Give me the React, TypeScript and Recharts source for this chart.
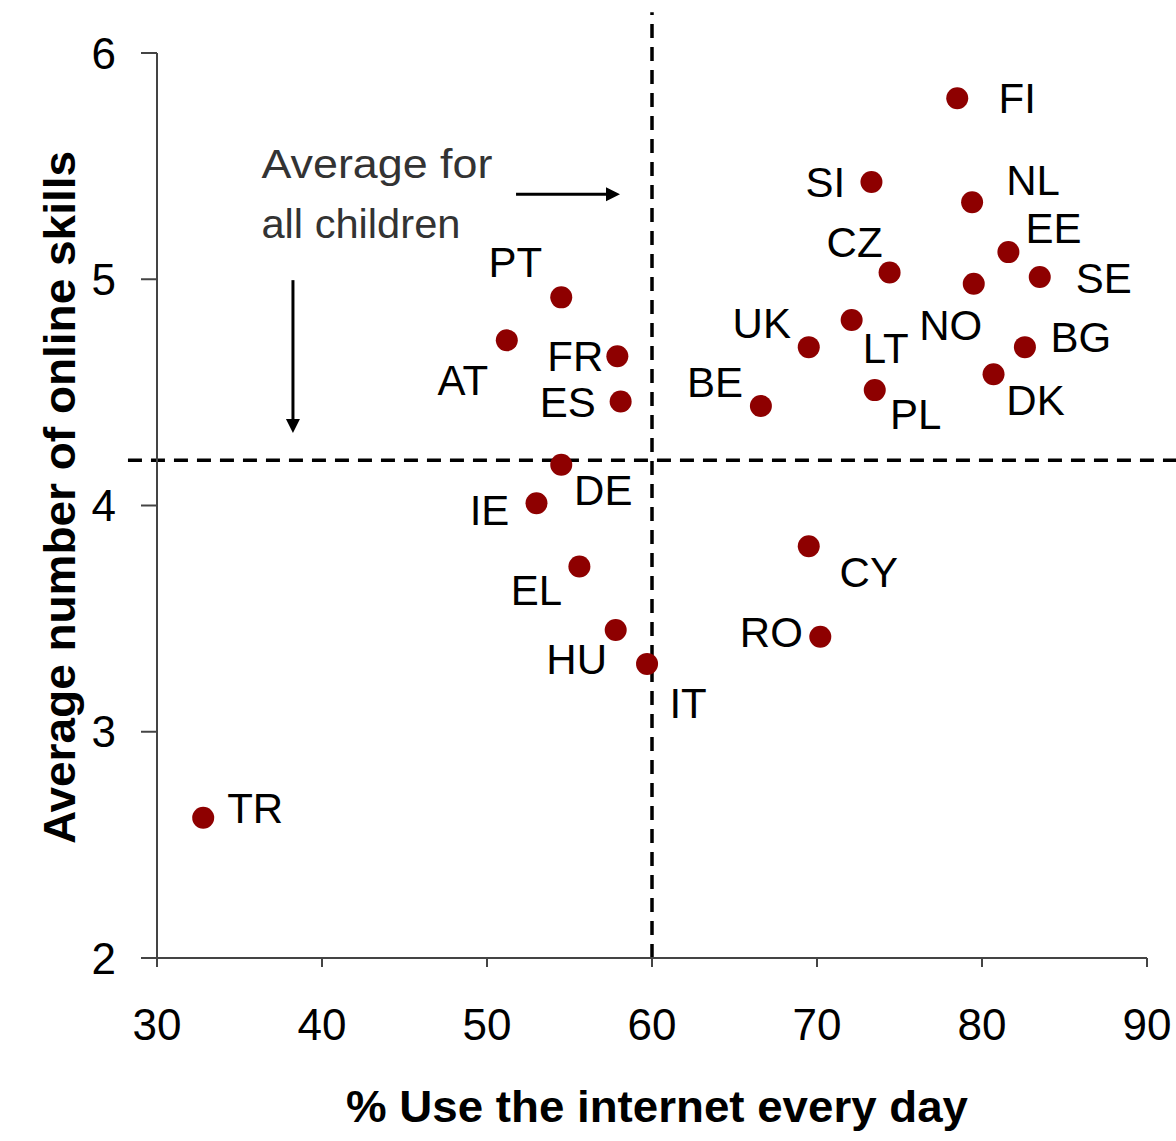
import React from 'react';
import { ScatterChart, Scatter, XAxis, YAxis, ReferenceLine, ReferenceDot } from 'recharts';

const countries = ['FI', 'SI', 'NL', 'EE', 'CZ', 'SE', 'NO', 'PT', 'LT', 'UK', 'AT', 'FR', 'BG', 'PL', 'DK', 'ES', 'BE', 'DE', 'IE', 'CY', 'EL', 'HU', 'RO', 'IT', 'TR'];
const dailyUse = [78.5, 73.3, 79.4, 81.6, 74.4, 83.5, 79.5, 54.5, 72.1, 69.5, 51.2, 57.9, 82.6, 73.5, 80.7, 58.1, 66.6, 54.5, 53.0, 69.5, 55.6, 57.8, 70.2, 59.7, 32.8];
const onlineSkills = [5.80, 5.43, 5.34, 5.12, 5.03, 5.01, 4.98, 4.92, 4.82, 4.70, 4.73, 4.66, 4.70, 4.51, 4.58, 4.46, 4.44, 4.18, 4.01, 3.82, 3.73, 3.45, 3.42, 3.30, 2.62];

const xTicks = [30, 40, 50, 60, 70, 80, 90];
const yTicks = [2, 3, 4, 5, 6];
const averageUse = 60;
const averageSkills = 4.2;

// label placement (pixel offsets of label centre from its dot)
const labelOffsets: Record<string, [number, number]> = {
  FI: [60, 0], SI: [-46, 0], NL: [61, -22], EE: [45, -24], CZ: [-35, -30], SE: [64, 1],
  NO: [-23, 41], PT: [-46, -35], LT: [34, 28], UK: [-47, -24], AT: [-44, 40], FR: [-42, 0],
  BG: [56, -10], PL: [41, 24], DK: [42, 26], ES: [-53, 1], BE: [-46, -24], DE: [42, 25],
  IE: [-47, 7], CY: [60, 26], EL: [-43, 23], HU: [-39, 29], RO: [-49, -5], IT: [41, 39], TR: [52, -10],
};

const data = countries.map((c, i) => ({ country: c, x: dailyUse[i], y: onlineSkills[i] }));

const FONT = '"Liberation Sans", Arial, sans-serif';
const DOT = '#8e0000';
const LABEL_SIZE = 42;

const DotWithLabel = (props: any) => {
  const { cx, cy, payload } = props;
  const off = labelOffsets[payload.country] || [40, 0];
  return (
    <g>
      <circle cx={cx} cy={cy} r={11} fill={DOT} />
      <text
        x={cx + off[0]}
        y={cy + off[1] + LABEL_SIZE * 0.358}
        textAnchor="middle"
        fontFamily={FONT}
        fontSize={LABEL_SIZE}
        fill="#000"
      >
        {payload.country}
      </text>
    </g>
  );
};

const Arrow = (props: any) => {
  const { x1, y1, x2, y2 } = props;
  const ang = Math.atan2(y2 - y1, x2 - x1);
  const len = 14;
  const half = 7;
  const bx = x2 - len * Math.cos(ang);
  const by = y2 - len * Math.sin(ang);
  const px = -Math.sin(ang) * half;
  const py = Math.cos(ang) * half;
  return (
    <g>
      <line x1={x1} y1={y1} x2={bx} y2={by} stroke="#000" strokeWidth={3} />
      <polygon points={`${x2},${y2} ${bx + px},${by + py} ${bx - px},${by - py}`} fill="#000" />
    </g>
  );
};

const AnnotationText = (props: any) => {
  const { cx, cy } = props;
  return (
    <g>
      <text x={cx} y={cy} fontFamily={FONT} fontSize={40} fill="#333" textLength={231} lengthAdjust="spacingAndGlyphs">
        Average for
      </text>
      <text x={cx} y={cy + 60} fontFamily={FONT} fontSize={40} fill="#333" textLength={199} lengthAdjust="spacingAndGlyphs">
        all children
      </text>
    </g>
  );
};

const XTitle = (props: any) => {
  const vb = props.viewBox || {};
  return (
    <text
      x={vb.x + vb.width / 2 + 5}
      y={vb.y + 164}
      textAnchor="middle"
      fontFamily={FONT}
      fontWeight="bold"
      fontSize={44}
      fill="#000"
      textLength={622}
      lengthAdjust="spacingAndGlyphs"
    >
      % Use the internet every day
    </text>
  );
};

const YTitle = (props: any) => {
  const vb = props.viewBox || {};
  const cy = vb.y + vb.height / 2 - 8;
  const x = 75;
  return (
    <text
      x={x}
      y={cy}
      transform={`rotate(-90, ${x}, ${cy})`}
      textAnchor="middle"
      fontFamily={FONT}
      fontWeight="bold"
      fontSize={44}
      fill="#000"
      textLength={693}
      lengthAdjust="spacingAndGlyphs"
    >
      Average number of online skills
    </text>
  );
};

const tickStyle = { fontFamily: FONT, fontSize: 44, fill: '#000' };

export default function App() {
  return (
    <div style={{ position: 'absolute', left: 0, top: 0, width: 1176, height: 1141, background: '#fff' }}>
      <ScatterChart width={1176} height={1141} margin={{ top: 53, right: 29, bottom: 123, left: 97 }}>
        <XAxis
          type="number"
          dataKey="x"
          domain={[30, 90]}
          ticks={xTicks}
          allowDataOverflow
          height={60}
          tickSize={9}
          tickMargin={42}
          tick={tickStyle}
          axisLine={{ stroke: '#444', strokeWidth: 2 }}
          tickLine={{ stroke: '#444', strokeWidth: 2 }}
          label={<XTitle />}
        />
        <YAxis
          type="number"
          dataKey="y"
          domain={[2, 6]}
          ticks={yTicks}
          allowDataOverflow
          width={60}
          tickSize={16}
          tickMargin={25}
          tick={tickStyle}
          axisLine={{ stroke: '#444', strokeWidth: 2 }}
          tickLine={{ stroke: '#444', strokeWidth: 2 }}
          label={<YTitle />}
        />
        <ReferenceLine
          segment={[{ x: averageUse, y: 2 }, { x: averageUse, y: 6.18 }]}
          stroke="#000"
          strokeWidth={3.5}
          strokeDasharray="14 9"
          ifOverflow="visible"
        />
        <ReferenceLine
          segment={[{ x: 28.24, y: averageSkills }, { x: 91.76, y: averageSkills }]}
          stroke="#000"
          strokeWidth={3.5}
          strokeDasharray="14 9"
          ifOverflow="visible"
        />
        <ReferenceLine
          segment={[{ x: 51.76, y: 5.376 }, { x: 58.06, y: 5.376 }]}
          ifOverflow="visible"
          shape={<Arrow />}
        />
        <ReferenceLine
          segment={[{ x: 38.24, y: 4.996 }, { x: 38.24, y: 4.32 }]}
          ifOverflow="visible"
          shape={<Arrow />}
        />
        <ReferenceDot x={36.33} y={5.446} r={0} ifOverflow="visible" shape={<AnnotationText />} />
        <Scatter data={data} isAnimationActive={false} shape={<DotWithLabel />} />
      </ScatterChart>
    </div>
  );
}
